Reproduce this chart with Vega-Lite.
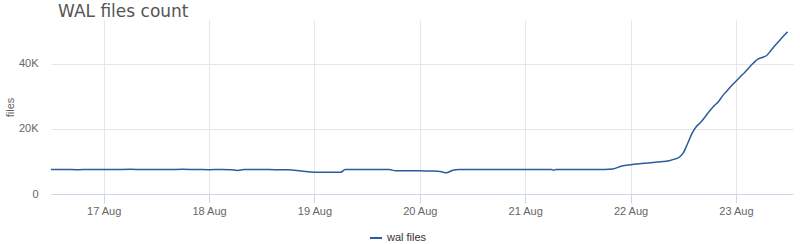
{
  "$schema": "https://vega.github.io/schema/vega-lite/v6.json",
  "autosize": {"type": "none"},
  "width": 742,
  "height": 174,
  "padding": {"left": 51, "top": 20, "right": 7, "bottom": 50},
  "background": "white",
  "config": {
    "font": "Liberation Sans",
    "view": {"stroke": null}
  },
  "title": {
    "text": "WAL files count",
    "anchor": "start",
    "frame": "group",
    "dx": 7,
    "offset": -1,
    "fontSize": 17,
    "fontWeight": "normal",
    "color": "#555555",
    "font": "DejaVu Sans"
  },
  "data": {
    "values": [
      {"t": "2017-08-16T12:00:00Z", "v": 7500},
      {"t": "2017-08-16T15:00:00Z", "v": 7520},
      {"t": "2017-08-16T18:00:00Z", "v": 7480},
      {"t": "2017-08-16T21:00:00Z", "v": 7500},
      {"t": "2017-08-17T00:00:00Z", "v": 7490},
      {"t": "2017-08-17T03:00:00Z", "v": 7520},
      {"t": "2017-08-17T06:00:00Z", "v": 7580},
      {"t": "2017-08-17T09:00:00Z", "v": 7500},
      {"t": "2017-08-17T12:00:00Z", "v": 7500},
      {"t": "2017-08-17T15:00:00Z", "v": 7510},
      {"t": "2017-08-17T18:00:00Z", "v": 7560},
      {"t": "2017-08-17T21:00:00Z", "v": 7490},
      {"t": "2017-08-18T00:00:00Z", "v": 7480},
      {"t": "2017-08-18T03:00:00Z", "v": 7500},
      {"t": "2017-08-18T05:00:00Z", "v": 7450},
      {"t": "2017-08-18T06:30:00Z", "v": 7250},
      {"t": "2017-08-18T08:00:00Z", "v": 7500},
      {"t": "2017-08-18T12:00:00Z", "v": 7500},
      {"t": "2017-08-18T15:00:00Z", "v": 7480},
      {"t": "2017-08-18T18:00:00Z", "v": 7420},
      {"t": "2017-08-18T21:00:00Z", "v": 7050},
      {"t": "2017-08-19T00:00:00Z", "v": 6700},
      {"t": "2017-08-19T03:00:00Z", "v": 6650},
      {"t": "2017-08-19T06:00:00Z", "v": 6680},
      {"t": "2017-08-19T07:00:00Z", "v": 7500},
      {"t": "2017-08-19T10:00:00Z", "v": 7520},
      {"t": "2017-08-19T14:00:00Z", "v": 7520},
      {"t": "2017-08-19T17:00:00Z", "v": 7500},
      {"t": "2017-08-19T18:30:00Z", "v": 7150},
      {"t": "2017-08-19T21:00:00Z", "v": 7150},
      {"t": "2017-08-20T00:00:00Z", "v": 7100},
      {"t": "2017-08-20T03:00:00Z", "v": 7050},
      {"t": "2017-08-20T05:00:00Z", "v": 6800},
      {"t": "2017-08-20T06:00:00Z", "v": 6500},
      {"t": "2017-08-20T07:30:00Z", "v": 7300},
      {"t": "2017-08-20T09:00:00Z", "v": 7500},
      {"t": "2017-08-20T12:00:00Z", "v": 7500},
      {"t": "2017-08-20T18:00:00Z", "v": 7500},
      {"t": "2017-08-21T00:00:00Z", "v": 7500},
      {"t": "2017-08-21T06:00:00Z", "v": 7500},
      {"t": "2017-08-21T06:30:00Z", "v": 7300},
      {"t": "2017-08-21T07:00:00Z", "v": 7500},
      {"t": "2017-08-21T12:00:00Z", "v": 7500},
      {"t": "2017-08-21T18:00:00Z", "v": 7550},
      {"t": "2017-08-21T20:00:00Z", "v": 7700},
      {"t": "2017-08-21T22:00:00Z", "v": 8600},
      {"t": "2017-08-22T00:00:00Z", "v": 9000},
      {"t": "2017-08-22T03:00:00Z", "v": 9400},
      {"t": "2017-08-22T06:00:00Z", "v": 9800},
      {"t": "2017-08-22T09:00:00Z", "v": 10300},
      {"t": "2017-08-22T10:00:00Z", "v": 10700},
      {"t": "2017-08-22T11:00:00Z", "v": 11200},
      {"t": "2017-08-22T12:00:00Z", "v": 12600},
      {"t": "2017-08-22T13:00:00Z", "v": 15500},
      {"t": "2017-08-22T14:00:00Z", "v": 18600},
      {"t": "2017-08-22T15:00:00Z", "v": 20700},
      {"t": "2017-08-22T16:00:00Z", "v": 22000},
      {"t": "2017-08-22T17:00:00Z", "v": 23700},
      {"t": "2017-08-22T18:00:00Z", "v": 25500},
      {"t": "2017-08-22T19:00:00Z", "v": 27000},
      {"t": "2017-08-22T20:00:00Z", "v": 28300},
      {"t": "2017-08-22T21:00:00Z", "v": 30200},
      {"t": "2017-08-22T22:00:00Z", "v": 31700},
      {"t": "2017-08-22T23:00:00Z", "v": 33200},
      {"t": "2017-08-23T00:00:00Z", "v": 34600},
      {"t": "2017-08-23T01:00:00Z", "v": 36000},
      {"t": "2017-08-23T02:00:00Z", "v": 37300},
      {"t": "2017-08-23T03:00:00Z", "v": 38800},
      {"t": "2017-08-23T04:00:00Z", "v": 40200},
      {"t": "2017-08-23T05:00:00Z", "v": 41400},
      {"t": "2017-08-23T06:00:00Z", "v": 41900},
      {"t": "2017-08-23T07:00:00Z", "v": 42500},
      {"t": "2017-08-23T08:00:00Z", "v": 44100},
      {"t": "2017-08-23T09:00:00Z", "v": 45700},
      {"t": "2017-08-23T10:00:00Z", "v": 47200},
      {"t": "2017-08-23T11:00:00Z", "v": 48700},
      {"t": "2017-08-23T11:45:00Z", "v": 49800}
    ]
  },
  "mark": {"type": "line", "interpolate": "monotone", "strokeWidth": 1.5},
  "encoding": {
    "x": {
      "field": "t",
      "type": "temporal",
      "scale": {"type": "utc", "domain": [{"year": 2017, "month": 8, "date": 16, "hours": 12, "utc": true}, {"year": 2017, "month": 8, "date": 23, "hours": 13, "utc": true}], "nice": false},
      "axis": {
        "title": null,
        "format": "%e %b",
        "tickCount": {"interval": "day", "step": 1},
        "grid": true,
        "gridColor": "#e6e6e6",
        "domainColor": "#ccd6eb",
        "tickColor": "#ccd6eb",
        "tickSize": 9,
        "labelPadding": 2,
        "labelFontSize": 11,
        "labelColor": "#666666",
        "labelFont": "Liberation Sans"
      }
    },
    "y": {
      "field": "v",
      "type": "quantitative",
      "scale": {"domain": [0, 53400], "nice": false},
      "axis": {
        "title": "files",
        "values": [0, 20000, 40000],
        "labelExpr": "datum.value == 0 ? '0' : (datum.value / 1000) + 'K'",
        "grid": true,
        "gridColor": "#e6e6e6",
        "domain": false,
        "ticks": false,
        "labelPadding": 13,
        "labelFontSize": 11,
        "labelColor": "#666666",
        "labelFont": "Liberation Sans",
        "titleFontSize": 11,
        "titleFontWeight": "normal",
        "titleColor": "#666666",
        "titleFont": "Liberation Sans",
        "titlePadding": 3
      }
    },
    "color": {
      "datum": "wal files",
      "type": "nominal",
      "scale": {"range": ["#2b5b9c"]},
      "legend": {
        "title": null,
        "orient": "none",
        "legendX": 318,
        "legendY": 211,
        "padding": 0,
        "direction": "horizontal",
        "symbolType": "stroke",
        "symbolSize": 144,
        "symbolStrokeWidth": 2,
        "labelFontSize": 11,
        "labelOffset": 4,
        "labelColor": "#333333",
        "labelFont": "Liberation Sans"
      }
    }
  }
}
